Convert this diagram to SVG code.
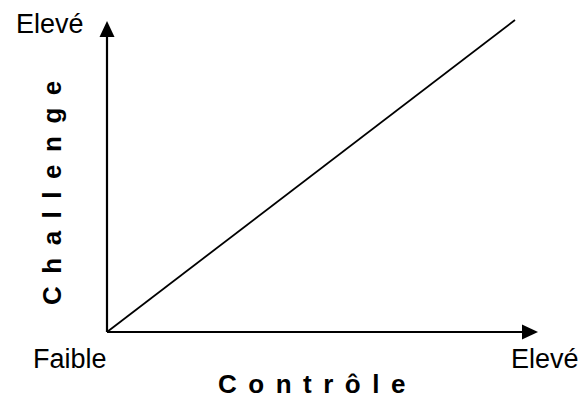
<svg xmlns="http://www.w3.org/2000/svg" width="584" height="398" viewBox="0 0 584 398">
<style>
.lbl{font-family:"Liberation Sans",Arial,sans-serif;font-size:27px;fill:#000}
.ttl{font-family:"Liberation Sans",Arial,sans-serif;font-size:26px;font-weight:bold;fill:#000;letter-spacing:11.5px}
.ax{stroke:#000;stroke-width:2.2;fill:none}
</style>
<rect width="584" height="398" fill="#fff"/>
<g id="connectors">
<line class="ax" x1="107" y1="332" x2="107" y2="34"/>
<polygon points="107,21 99.5,37 114.5,37" fill="#000"/>
<line class="ax" x1="107" y1="332" x2="525" y2="332"/>
<polygon points="538,332 522,324.5 522,339.5" fill="#000"/>
<line x1="107" y1="332" x2="515" y2="20" stroke="#000" stroke-width="1.8"/>
</g>
<g id="label-high-y"><text class="lbl" x="16" y="33">Elevé</text></g>
<g id="label-low"><text class="lbl" x="33" y="368">Faible</text></g>
<g id="label-high-x"><text class="lbl" x="511" y="368">Elevé</text></g>
<g id="title-x"><text class="ttl" x="218" y="393">Contrôle</text></g>
<g id="title-y"><text class="ttl" style="letter-spacing:12.5px" transform="translate(61,305) rotate(-90)">Challenge</text></g>
</svg>
